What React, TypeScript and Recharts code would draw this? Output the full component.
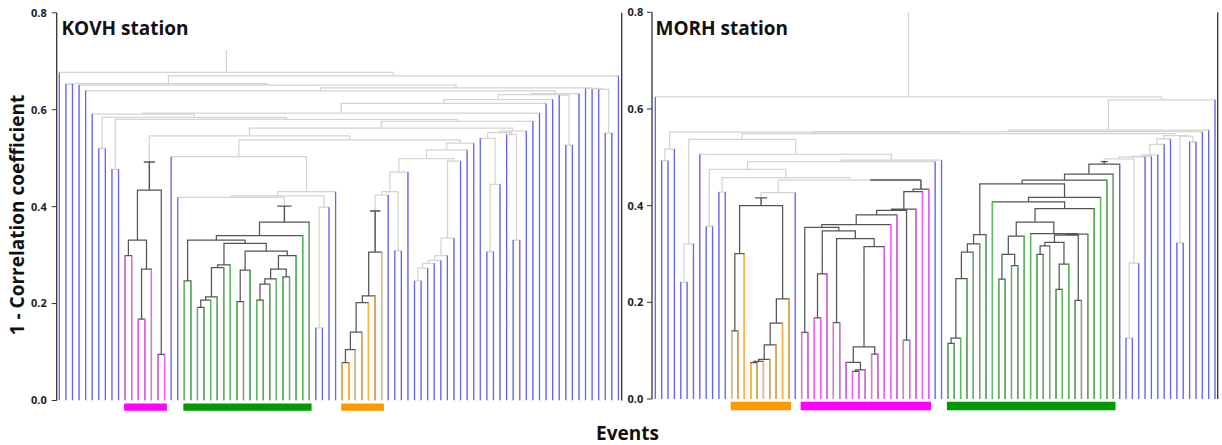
import React from 'react';
import { ComposedChart, Line, XAxis, YAxis, ReferenceArea } from 'recharts';

// Linkage rows: [first leaf, last leaf of left child, last leaf, merge height (1 - r)]
type Merge = [number, number, number, number];
// Coloured event families: [first leaf, last leaf, family]
type Family = [number, number, string];
// Cut marks drawn above each family: [first leaf, last leaf, cut height]
type Cut = [number, number, number];

const KOVH_LEAF_COUNT = 86;
const KOVH_FAMILIES: Family[] = [
  [10, 16, 'pink'],
  [19, 38, 'green'],
  [43, 49, 'orange'],
];
const KOVH_CUTS: Cut[] = [
  [10, 16, 0.492],
  [19, 38, 0.401],
  [43, 49, 0.391],
];
const KOVH_ROOT_TOP = 0.723;
const KOVH_MERGES: Merge[] = [
  // pink family
  [10, 10, 11, 0.299], [12, 12, 13, 0.168], [12, 13, 14, 0.271], [10, 11, 14, 0.331],
  [15, 15, 16, 0.095], [10, 14, 16, 0.434],
  // green family
  [19, 19, 20, 0.247], [21, 21, 22, 0.192], [21, 22, 23, 0.207], [21, 23, 24, 0.214],
  [21, 24, 25, 0.274], [21, 25, 26, 0.28], [27, 27, 28, 0.204], [27, 28, 29, 0.269],
  [30, 30, 31, 0.207], [30, 31, 32, 0.24], [30, 32, 33, 0.251], [34, 34, 35, 0.255],
  [30, 33, 35, 0.271], [30, 35, 36, 0.299], [27, 29, 36, 0.308], [21, 26, 36, 0.324],
  [19, 20, 36, 0.331], [19, 36, 37, 0.34], [19, 37, 38, 0.368],
  // orange family
  [43, 43, 44, 0.078], [43, 44, 45, 0.105], [43, 45, 46, 0.141], [43, 46, 47, 0.202],
  [43, 47, 48, 0.216], [43, 48, 49, 0.306],
  // unclustered events
  [18, 18, 38, 0.419], [39, 39, 40, 0.15], [39, 40, 41, 0.399], [18, 38, 41, 0.422],
  [18, 41, 42, 0.431],
  [43, 49, 50, 0.424], [51, 51, 52, 0.309], [43, 50, 52, 0.431], [43, 52, 53, 0.471],
  [54, 54, 55, 0.247], [54, 55, 56, 0.273], [54, 56, 57, 0.283], [54, 57, 58, 0.289],
  [54, 58, 59, 0.299], [54, 59, 60, 0.335], [54, 60, 61, 0.494],
  [43, 53, 61, 0.499], [17, 17, 42, 0.503], [43, 61, 62, 0.517], [43, 62, 63, 0.531],
  [17, 42, 63, 0.538], [10, 16, 63, 0.546],
  [65, 65, 66, 0.307], [65, 66, 67, 0.446], [64, 64, 67, 0.541], [69, 69, 70, 0.331],
  [68, 68, 70, 0.549], [64, 67, 70, 0.553], [64, 70, 71, 0.556], [10, 63, 71, 0.562],
  [10, 71, 72, 0.576],
  [8, 8, 9, 0.477], [8, 9, 72, 0.58], [6, 6, 7, 0.52], [6, 7, 72, 0.584], [5, 5, 72, 0.591],
  [5, 72, 73, 0.593], [5, 73, 74, 0.613], [5, 74, 75, 0.621],
  [77, 77, 78, 0.527], [76, 76, 78, 0.63], [5, 75, 78, 0.631], [5, 78, 79, 0.633],
  [4, 4, 79, 0.639],
  [83, 83, 84, 0.552], [82, 82, 84, 0.642], [81, 81, 84, 0.643], [80, 80, 84, 0.644],
  [4, 79, 84, 0.645], [3, 3, 84, 0.651], [1, 1, 2, 0.653], [1, 2, 84, 0.654],
  [1, 84, 85, 0.67], [0, 0, 85, 0.677],
];

const MORH_LEAF_COUNT = 89;
const MORH_FAMILIES: Family[] = [
  [12, 21, 'orange'],
  [23, 43, 'pink'],
  [46, 72, 'green'],
];
const MORH_CUTS: Cut[] = [
  [12, 21, 0.416],
  [23, 43, 0.453],
  [46, 73, 0.491],
];
const MORH_ROOT_TOP = 0.8;
const MORH_MERGES: Merge[] = [
  // orange family
  [12, 12, 13, 0.141], [12, 13, 14, 0.301], [15, 15, 16, 0.075], [15, 16, 17, 0.078],
  [15, 17, 18, 0.082], [15, 18, 19, 0.112], [15, 19, 20, 0.157], [15, 20, 21, 0.207],
  [12, 14, 21, 0.4],
  // pink family
  [23, 23, 24, 0.138], [25, 25, 26, 0.168], [25, 26, 27, 0.259], [28, 28, 29, 0.158],
  [31, 31, 32, 0.057], [31, 32, 33, 0.06], [30, 30, 33, 0.076], [34, 34, 35, 0.093],
  [30, 33, 35, 0.108], [30, 35, 36, 0.315], [28, 29, 36, 0.332], [25, 27, 36, 0.348],
  [23, 24, 36, 0.355], [23, 36, 37, 0.361], [23, 37, 38, 0.381], [39, 39, 40, 0.122],
  [23, 38, 40, 0.39], [23, 40, 41, 0.393], [23, 41, 42, 0.429], [23, 42, 43, 0.434],
  // green family
  [46, 46, 47, 0.115], [46, 47, 48, 0.126], [46, 48, 49, 0.249], [46, 49, 50, 0.304],
  [46, 50, 51, 0.321], [46, 51, 52, 0.34], [54, 54, 55, 0.248], [56, 56, 57, 0.276],
  [54, 55, 57, 0.299], [54, 57, 58, 0.337], [60, 60, 61, 0.299], [60, 61, 62, 0.317],
  [63, 63, 64, 0.227], [63, 64, 65, 0.279], [60, 62, 65, 0.324], [66, 66, 67, 0.204],
  [60, 65, 67, 0.339], [60, 67, 68, 0.341], [59, 59, 68, 0.342], [54, 58, 68, 0.366],
  [54, 68, 69, 0.394], [53, 53, 69, 0.408], [53, 69, 70, 0.417], [46, 52, 70, 0.445],
  [46, 70, 71, 0.453], [46, 71, 72, 0.465], [46, 72, 73, 0.486],
  // unclustered events
  [1, 1, 2, 0.493], [1, 2, 3, 0.517], [4, 4, 5, 0.242], [4, 5, 6, 0.321], [8, 8, 9, 0.357],
  [10, 10, 11, 0.428], [12, 21, 22, 0.427], [12, 22, 43, 0.453], [10, 11, 43, 0.458],
  [8, 9, 43, 0.475], [8, 43, 44, 0.491], [8, 44, 45, 0.494], [7, 7, 45, 0.506],
  [74, 74, 75, 0.126], [74, 75, 76, 0.281], [46, 73, 76, 0.497], [46, 76, 77, 0.501],
  [46, 77, 78, 0.502], [46, 78, 79, 0.505], [46, 79, 80, 0.527], [46, 80, 81, 0.538],
  [82, 82, 83, 0.323], [84, 84, 85, 0.532], [82, 83, 85, 0.544], [46, 81, 85, 0.545],
  [4, 6, 45, 0.537], [4, 45, 85, 0.549], [1, 3, 85, 0.552], [1, 85, 86, 0.553],
  [1, 86, 87, 0.556], [1, 87, 88, 0.619], [0, 0, 88, 0.625],
];

const Y_TICKS = [0, 0.2, 0.4, 0.6, 0.8];
const X_TICKS = [20, 40, 60, 80];

const STEM_COLOURS: Record<string, string> = {
  blue: '#6262ff',
  pink: '#ff5eff',
  green: '#5dba5d',
  orange: '#ffb443',
};
const BAND_COLOURS: Record<string, string> = {
  pink: '#ff00ff',
  green: '#009a00',
  orange: '#ff9900',
};
const GREY_LINK = '#d4d4d4';
const DARK_LINK = '#555555';
const FRAME = '#333333';
const FONT = "'Open Sans', 'DejaVu Sans', sans-serif";

interface Pt { x: number; y: number | null }
interface Node { x: number; h: number; leaf: boolean }

function buildDendrogram(
  leafCount: number,
  merges: Merge[],
  families: Family[],
  cuts: Cut[],
  cutReach: [number, number][],
  rootTop: number,
) {
  const key = (a: number, b: number) => `${a}:${b}`;
  const nodes = new Map<string, Node>();
  for (let i = 0; i < leafCount; i++) nodes.set(key(i, i), { x: i, h: 0, leaf: true });

  const pending = merges.slice();
  const links: { lo: number; hi: number; h: number; a: Node; b: Node }[] = [];
  let moved = true;
  while (pending.length && moved) {
    moved = false;
    for (let k = 0; k < pending.length; ) {
      const [lo, split, hi, h] = pending[k];
      const a = nodes.get(key(lo, split));
      const b = nodes.get(key(split + 1, hi));
      if (a && b) {
        nodes.set(key(lo, hi), { x: (a.x + b.x) / 2, h, leaf: false });
        links.push({ lo, hi, h, a, b });
        pending.splice(k, 1);
        moved = true;
      } else {
        k++;
      }
    }
  }

  const familyOf = (i: number) => {
    const f = families.find(([lo, hi]) => i >= lo && i <= hi);
    return f ? f[2] : 'blue';
  };
  const insideCut = (lo: number, hi: number) => cuts.some(([a, b]) => lo >= a && hi <= b);

  const grey: Pt[] = [];
  const dark: Pt[] = [];
  const stems: Record<string, Pt[]> = { blue: [], pink: [], green: [], orange: [] };

  links.forEach(({ lo, hi, h, a, b }) => {
    const target = insideCut(lo, hi) ? dark : grey;
    target.push(
      { x: a.x, y: a.h }, { x: a.x, y: h }, { x: b.x, y: h }, { x: b.x, y: b.h },
      { x: b.x, y: null },
    );
    [a, b].forEach((n) => {
      if (n.leaf) stems[familyOf(n.x)].push({ x: n.x, y: 0 }, { x: n.x, y: h }, { x: n.x, y: null });
    });
  });

  const root = nodes.get(key(0, leafCount - 1));
  if (root) grey.push({ x: root.x, y: root.h }, { x: root.x, y: rootTop }, { x: root.x, y: null });

  const marks: Pt[] = [];
  cuts.forEach(([lo, hi, cut], idx) => {
    const n = nodes.get(key(lo, hi));
    if (!n) return;
    const [l, r] = cutReach[idx];
    marks.push(
      { x: n.x, y: n.h }, { x: n.x, y: cut }, { x: n.x, y: null },
      { x: n.x - l, y: cut }, { x: n.x + r, y: cut }, { x: n.x, y: null },
    );
  });

  return { grey, dark, stems, marks };
}

interface PanelProps {
  leafCount: number;
  merges: Merge[];
  families: Family[];
  cuts: Cut[];
  cutReach: [number, number][];
  rootTop: number;
  left: number;
  width: number;
  margin: { top: number; right: number; bottom: number; left: number };
  xDomain: [number, number];
  labelGap: number;
  band: [number, number];
}

function Panel(p: PanelProps) {
  const d = buildDendrogram(p.leafCount, p.merges, p.families, p.cuts, p.cutReach, p.rootTop);
  const line = (data: Pt[], stroke: string, id: string, w = 1.25) => (
    <Line
      key={id}
      data={data}
      dataKey="y"
      xAxisId="b"
      yAxisId="l"
      stroke={stroke}
      strokeWidth={w}
      dot={false}
      activeDot={false}
      connectNulls={false}
      isAnimationActive={false}
      type="linear"
    />
  );
  return (
    <div style={{ position: 'absolute', left: p.left, top: 0 }}>
      <ComposedChart width={p.width} height={445} margin={p.margin}>
        <XAxis
          xAxisId="b"
          dataKey="x"
          type="number"
          domain={p.xDomain}
          allowDataOverflow
          ticks={X_TICKS}
          tick={false}
          tickSize={2}
          height={0}
          axisLine={{ stroke: FRAME, strokeWidth: 1.3 }}
          tickLine={{ stroke: FRAME }}
        />
        <XAxis
          xAxisId="t"
          orientation="top"
          dataKey="x"
          type="number"
          domain={p.xDomain}
          allowDataOverflow
          ticks={X_TICKS}
          tick={false}
          tickSize={2}
          height={0}
          axisLine={{ stroke: FRAME, strokeWidth: 1.3 }}
          tickLine={{ stroke: FRAME }}
        />
        <YAxis
          yAxisId="l"
          type="number"
          domain={[0, 0.8]}
          allowDataOverflow
          ticks={Y_TICKS}
          tickFormatter={(v: number) => v.toFixed(1)}
          width={40}
          tickSize={5}
          tickMargin={p.labelGap}
          tick={{ fill: '#222', fontSize: 11, fontWeight: 700, fontFamily: FONT }}
          axisLine={{ stroke: FRAME, strokeWidth: 1.3 }}
          tickLine={{ stroke: FRAME }}
        />
        <YAxis
          yAxisId="r"
          orientation="right"
          type="number"
          domain={[0, 0.8]}
          allowDataOverflow
          ticks={Y_TICKS}
          tick={false}
          width={1}
          tickSize={3}
          axisLine={{ stroke: FRAME, strokeWidth: 1.3 }}
          tickLine={{ stroke: FRAME }}
        />
        {line(d.grey, GREY_LINK, 'grey')}
        {line(d.dark, DARK_LINK, 'dark')}
        {line(d.stems.blue, STEM_COLOURS.blue, 'blue')}
        {line(d.stems.pink, STEM_COLOURS.pink, 'pink')}
        {line(d.stems.green, STEM_COLOURS.green, 'green')}
        {line(d.stems.orange, STEM_COLOURS.orange, 'orange')}
        {line(d.marks, DARK_LINK, 'marks', 1.4)}
        {p.families.map(([lo, hi, fam]) => (
          <ReferenceArea
            key={fam}
            xAxisId="b"
            yAxisId="l"
            x1={lo - 0.15}
            x2={hi + 0.35}
            y1={p.band[0]}
            y2={p.band[1]}
            ifOverflow="visible"
            fill={BAND_COLOURS[fam]}
            fillOpacity={1}
            stroke="none"
          />
        ))}
      </ComposedChart>
    </div>
  );
}

export default function App() {
  return (
    <div style={{ position: 'absolute', left: 0, top: 0, width: 1222, height: 445, background: '#fff' }}>
      <Panel
        leafCount={KOVH_LEAF_COUNT}
        merges={KOVH_MERGES}
        families={KOVH_FAMILIES}
        cuts={KOVH_CUTS}
        cutReach={[[0.85, 0.85], [1.1, 1.1], [0.8, 0.8]]}
        rootTop={KOVH_ROOT_TOP}
        left={0}
        width={630}
        margin={{ top: 12.8, right: 7.3, bottom: 44.5, left: 16.7 }}
        xDomain={[-0.4, 85.5]}
        labelGap={5}
        band={[-0.0062, -0.021]}
      />
      <Panel
        leafCount={MORH_LEAF_COUNT}
        merges={MORH_MERGES}
        families={MORH_FAMILIES}
        cuts={MORH_CUTS}
        cutReach={[[0.95, 0.95], [8, 0], [0.55, 0.55]]}
        rootTop={MORH_ROOT_TOP}
        left={612}
        width={610}
        margin={{ top: 12.3, right: 3.3, bottom: 46, left: 0 }}
        xDomain={[-0.52, 88.42]}
        labelGap={3.7}
        band={[-0.0056, -0.0234]}
      />
      <svg
        width={1222}
        height={445}
        style={{ position: 'absolute', left: 0, top: 0, pointerEvents: 'none' }}
      >
        <g fontFamily={FONT} fontWeight={700} fill="#111">
          <text x={61.5} y={35} fontSize={19}>KOVH station</text>
          <text x={655.5} y={35} fontSize={19}>MORH station</text>
          <text x={627.5} y={440} fontSize={19} textAnchor="middle">Events</text>
          <text x={24} y={215} fontSize={19} textAnchor="middle" transform="rotate(-90 24 215)">
            1 - Correlation coefficient
          </text>
        </g>
      </svg>
    </div>
  );
}
